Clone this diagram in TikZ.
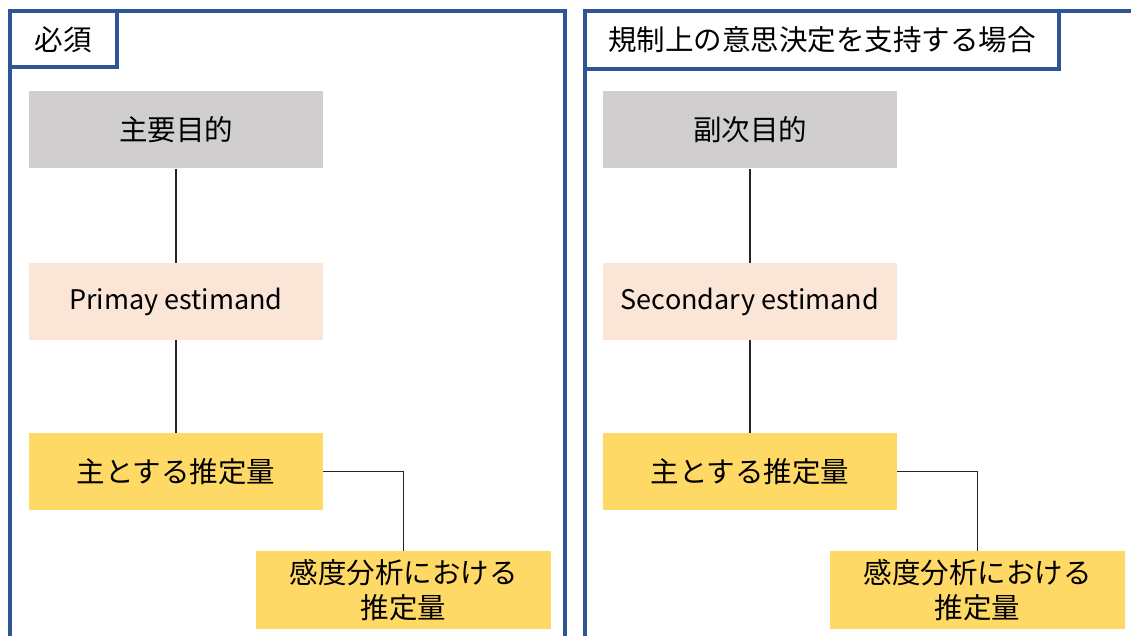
\documentclass[tikz,border=0pt]{standalone}
\usepackage{fontspec}
\setmainfont{Noto Sans CJK JP}
\definecolor{frameblue}{HTML}{2F5597}
\definecolor{boxgray}{HTML}{D0CECE}
\definecolor{boxpink}{HTML}{FBE5D6}
\definecolor{boxyellow}{HTML}{FFD966}
\tikzset{
  panelline/.style={draw=frameblue, line width=4pt},
  titlebox/.style={panelline, fill=white, inner sep=0pt, font=\fontsize{28.5}{32}\selectfont},
  flowbox/.style={inner sep=0pt, minimum width=294pt, minimum height=77pt, align=center,
    font=\fontsize{28.5}{35}\selectfont},
  latinbox/.style={flowbox, font=\fontsize{27}{32}\selectfont},
  graybox/.style={flowbox, fill=boxgray},
  pinkbox/.style={latinbox, fill=boxpink},
  yellowbox/.style={flowbox, fill=boxyellow},
  link/.style={draw=black!85, line width=1.4pt},
}
\begin{document}
\begin{tikzpicture}[x=1pt,y=-1pt]
\useasboundingbox (0,0) rectangle (1131,636);
% panel frames
\draw[panelline] (10,640) -- (10,11) -- (565,11) -- (565,640);
\draw[panelline] (585,640) -- (585,11) -- (1136,11);
% titles
\node[titlebox, minimum width=106.5pt, minimum height=56.5pt] (t1) at (63.25,39.25) {必須};
\node[titlebox, minimum width=474pt, minimum height=58pt] (t2) at (822,40) {規制上の意思決定を支持する場合};
% left column
\node[graybox] (g1) at (176,130) {主要目的};
\node[pinkbox] (p1) at (176,301.5) {\raisebox{-6pt}{Primay estimand}};
\node[yellowbox] (y1) at (176,471.5) {主とする推定量};
\node[yellowbox, minimum width=295pt, minimum height=78pt] (s1) at (403.5,590) {感度分析における\\推定量};
% right column
\node[graybox] (g2) at (750,130) {副次目的};
\node[pinkbox] (p2) at (750,301.5) {\raisebox{-6pt}{Secondary estimand}};
\node[yellowbox] (y2) at (750,471.5) {主とする推定量};
\node[yellowbox, minimum width=295pt, minimum height=78pt] (s2) at (977.5,590) {感度分析における\\推定量};
% connectors
\draw[link] (g1.south) -- (p1.north);
\draw[link] (p1.south) -- (y1.north);
\draw[link] (y1.east) -| (s1.north);
\draw[link] (g2.south) -- (p2.north);
\draw[link] (p2.south) -- (y2.north);
\draw[link] (y2.east) -| (s2.north);
\end{tikzpicture}
\end{document}
